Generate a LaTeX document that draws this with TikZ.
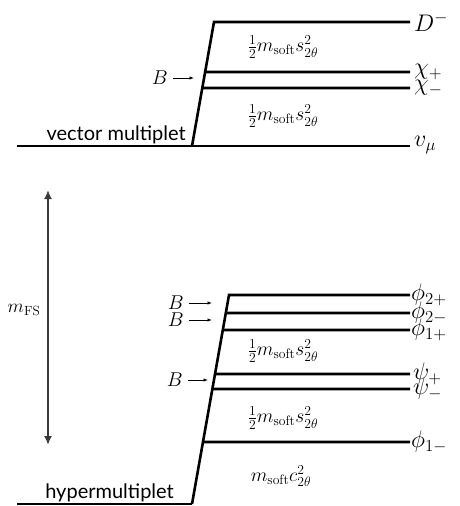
\RequirePackage{fix-cm}
\documentclass[tikz,border=0pt]{standalone}
\usepackage{amsmath}
\usepackage{fontspec}
\setsansfont{Lato}
\usetikzlibrary{positioning,arrows.meta,calc}
\definecolor{FSGray}{HTML}{3A3A3A}

\begin{document}
\begin{tikzpicture}[
  x=1pt, y=-1pt,
  level/.style={line width=2.6pt},
  thinlevel/.style={line width=1.8pt},
  state/.style={font=\fontsize{24}{28}\selectfont, anchor=west, inner sep=1pt},
  gap/.style={font=\fontsize{19.5}{23}\selectfont},
  multi/.style={font=\sffamily\fontsize{20}{24}\selectfont, anchor=south east, inner sep=2pt},
  blbl/.style={font=\fontsize{20}{24}\selectfont, inner sep=1pt, anchor=east},
  barrow/.style={-{Latex[length=4.5pt,width=3.5pt]}, line width=0.8pt, shorten <=4pt},
  fsarrow/.style={{Latex[length=9pt,width=8pt]}-{Latex[length=9pt,width=8pt]}, line width=2pt, FSGray}
]
\useasboundingbox (0,0) rectangle (459,506);

% vector multiplet
\coordinate (vtop) at (214,22);
\coordinate (vbot) at (192,146);
\coordinate (vleft) at (17,146);
\coordinate (Dend) at (410,22);
\coordinate (cpl) at ($(vtop)!50/124!(vbot)$);
\coordinate (cml) at ($(vtop)!66/124!(vbot)$);
\coordinate (cpr) at (410,72);
\coordinate (cmr) at (410,88);
\coordinate (vmu) at (410,146);

\draw[level, line join=miter] (vbot) -- (vtop) -- (Dend);
\draw[level] (cpl) -- (cpr);
\draw[level] (cml) -- (cmr);
\draw[level] (vleft) -- (vmu);

\node[state] (D) at ([xshift=3pt]Dend) {$D^-$};
\node[state] (chip) at ([xshift=3pt]cpr) {$\chi_+$};
\node[state] (chim) at ([xshift=3pt]cmr) {$\chi_-$};
\node[state] (vm) at ([xshift=3pt,yshift=1pt]vmu) {$v_\mu$};

\node[gap] (g1) at (283,47) {$\tfrac{1}{2}m_{\mathrm{soft}}s_{2\theta}^2$};
\node[gap] (g2) at (283,116) {$\tfrac{1}{2}m_{\mathrm{soft}}s_{2\theta}^2$};
\node[multi] (vmlt) at (188,146) {vector multiplet};

\node[blbl] (B1) at (169,78) {$B$};
\coordinate (b1) at (194,78);
\draw[barrow] (B1) -- (b1);

% hypermultiplet
\coordinate (htop) at (229,295);
\coordinate (hbot) at (192,504);
\coordinate (hleft) at (17,504);
\coordinate (f2pr) at (410,295);
\coordinate (f2ml) at ($(htop)!18/209!(hbot)$);
\coordinate (f2mr) at (410,313);
\coordinate (f1pl) at ($(htop)!35/209!(hbot)$);
\coordinate (f1pr) at (410,330);
\coordinate (pspl) at ($(htop)!79/209!(hbot)$);
\coordinate (pspr) at (410,374);
\coordinate (psml) at ($(htop)!94/209!(hbot)$);
\coordinate (psmr) at (410,389);
\coordinate (f1ml) at ($(htop)!147/209!(hbot)$);
\coordinate (f1mr) at (410,442);

\draw[level, line join=miter] (hbot) -- (htop) -- (f2pr);
\draw[level] (f2ml) -- (f2mr);
\draw[level] (f1pl) -- (f1pr);
\draw[level] (pspl) -- (pspr);
\draw[level] (psml) -- (psmr);
\draw[level] (f1ml) -- (f1mr);
\draw[thinlevel] (hleft) -- (hbot);

\node[state] (phi2p) at (f2pr) {$\phi_{2+}$};
\node[state] (phi2m) at (f2mr) {$\phi_{2-}$};
\node[state] (phi1p) at (f1pr) {$\phi_{1+}$};
\node[state] (psip) at ([xshift=2pt]pspr) {$\psi_+$};
\node[state] (psim) at ([xshift=2pt]psmr) {$\psi_-$};
\node[state] (phi1m) at (f1mr) {$\phi_{1-}$};

\node[gap] (g3) at (283,351) {$\tfrac{1}{2}m_{\mathrm{soft}}s_{2\theta}^2$};
\node[gap] (g4) at (283,418) {$\tfrac{1}{2}m_{\mathrm{soft}}s_{2\theta}^2$};
\node[gap] (g5) at (281,476) {$m_{\mathrm{soft}}c_{2\theta}^2$};
\node[multi] (hmlt) at (176,504) {hypermultiplet};

\node[blbl] (B2) at (185,303) {$B$};
\node[blbl] (B3) at (185,320) {$B$};
\node[blbl] (B4) at (184,380) {$B$};
\coordinate (b2) at (212,303);
\coordinate (b3) at (212,320);
\coordinate (b4) at (208,380);
\draw[barrow] (B2) -- (b2);
\draw[barrow] (B3) -- (b3);
\draw[barrow] (B4) -- (b4);

% fermion-scalar splitting
\coordinate (fstop) at (48,190);
\coordinate (fsbot) at (48,445);
\draw[fsarrow] (fstop) -- (fsbot);
\node[font=\fontsize{19}{22}\selectfont] (mfs) at (24,310) {$m_{\mathrm{FS}}$};
\end{tikzpicture}
\end{document}
